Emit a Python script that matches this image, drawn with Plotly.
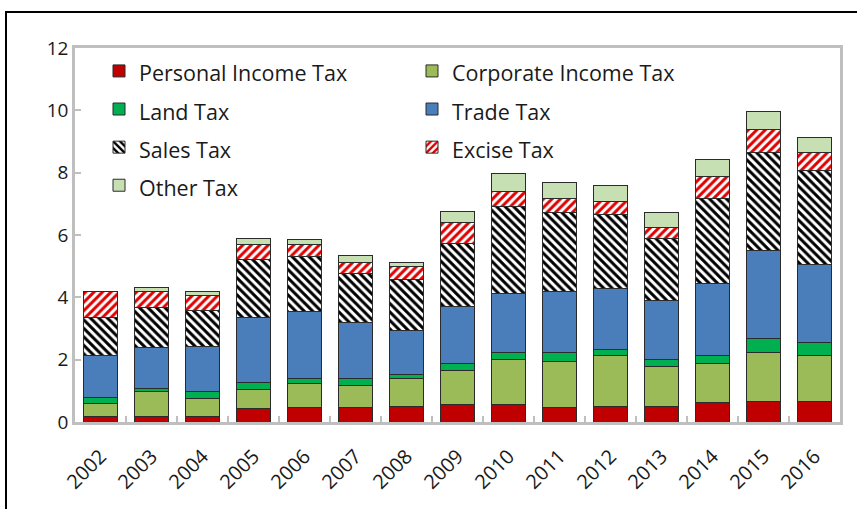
import plotly.graph_objects as go

# Tax revenue by type, stacked per year
years = [str(y) for y in range(2002, 2017)]

personal_income = [0.17, 0.19, 0.19, 0.42, 0.46, 0.46, 0.49, 0.57, 0.57, 0.46, 0.49, 0.49, 0.64, 0.67, 0.67]
corporate_income = [0.41, 0.78, 0.57, 0.62, 0.78, 0.72, 0.89, 1.09, 1.44, 1.49, 1.63, 1.28, 1.24, 1.55, 1.46]
land = [0.20, 0.09, 0.21, 0.24, 0.16, 0.21, 0.15, 0.22, 0.21, 0.27, 0.21, 0.25, 0.25, 0.46, 0.41]
trade = [1.34, 1.34, 1.45, 2.08, 2.16, 1.79, 1.41, 1.83, 1.90, 1.97, 1.94, 1.89, 2.30, 2.81, 2.52]
sales = [1.23, 1.28, 1.17, 1.84, 1.74, 1.57, 1.64, 2.02, 2.78, 2.54, 2.39, 1.99, 2.75, 3.15, 3.00]
excise = [0.83, 0.51, 0.47, 0.51, 0.41, 0.37, 0.40, 0.66, 0.50, 0.43, 0.41, 0.33, 0.69, 0.76, 0.60]
other = [0.02, 0.12, 0.14, 0.17, 0.14, 0.22, 0.15, 0.37, 0.58, 0.54, 0.52, 0.50, 0.56, 0.56, 0.48]

y_ticks = [0, 2, 4, 6, 8, 10, 12]

FONT = "Open Sans"
OUTLINE = "#2b2b2b"
AXIS_GRAY = "#BFBFBF"

series = [
    ("Personal Income Tax", personal_income, dict(color="#C00000")),
    ("Corporate Income Tax", corporate_income, dict(color="#9BBB59")),
    ("Land Tax", land, dict(color="#00B050")),
    ("Trade Tax", trade, dict(color="#4A7EBB")),
    ("Sales Tax", sales, dict(color="white",
                              pattern=dict(shape="\\", fgcolor="black", bgcolor="white",
                                           size=6, solidity=0.5, fillmode="replace"))),
    ("Excise Tax", excise, dict(color="white",
                                pattern=dict(shape="/", fgcolor="#E00000", bgcolor="white",
                                             size=6, solidity=0.5, fillmode="replace"))),
    ("Other Tax", other, dict(color="#C6E0B4")),
]

fig = go.Figure()
for name, vals, marker in series:
    marker = dict(marker)
    marker["line"] = dict(color=OUTLINE, width=1)
    fig.add_trace(go.Bar(
        x=years, y=vals,
        name=f'<span style="font-size:21.5px">{name}</span>',
        marker=marker,
    ))

# outer chart frame
fig.add_shape(type="rect", xref="paper", yref="paper",
              x0=(6 - 75) / 765, x1=(880 - 75) / 765,
              y0=(422 - 540) / 374, y1=(422 - 12) / 374,
              line=dict(color="black", width=2), fillcolor="rgba(0,0,0,0)", layer="above")

fig.update_layout(
    width=857, height=509,
    margin=dict(l=75, r=17, t=48, b=87),
    barmode="stack",
    bargap=0.35,
    plot_bgcolor="white",
    paper_bgcolor="white",
    font=dict(family=FONT, color="#1a1a1a", size=18),
    showlegend=True,
    legend=dict(
        orientation="h",
        traceorder="normal",
        x=(99 - 75) / 765, xanchor="left",
        y=1.003, yanchor="top",
        entrywidth=268,
        font=dict(family=FONT, size=27, color="#1a1a1a"),
        bgcolor="rgba(0,0,0,0)",
        borderwidth=0,
    ),
    xaxis=dict(
        type="category",
        tickangle=-45,
        ticks="inside", tickson="boundaries", ticklen=6, tickwidth=2, tickcolor=AXIS_GRAY,
        showline=True, linecolor=AXIS_GRAY, linewidth=2.5, mirror=True,
        showgrid=False,
        ticklabelstandoff=12,
        tickfont=dict(family=FONT, size=20, color="#1a1a1a"),
    ),
    yaxis=dict(
        range=[0, 12],
        tickvals=y_ticks,
        ticks="inside", ticklen=6, tickwidth=2, tickcolor=AXIS_GRAY,
        showline=True, linecolor=AXIS_GRAY, linewidth=2.5, mirror=True,
        showgrid=False, zeroline=False,
        tickfont=dict(family=FONT, size=19, color="#1a1a1a"),
    ),
)

fig.write_html("out.html")
